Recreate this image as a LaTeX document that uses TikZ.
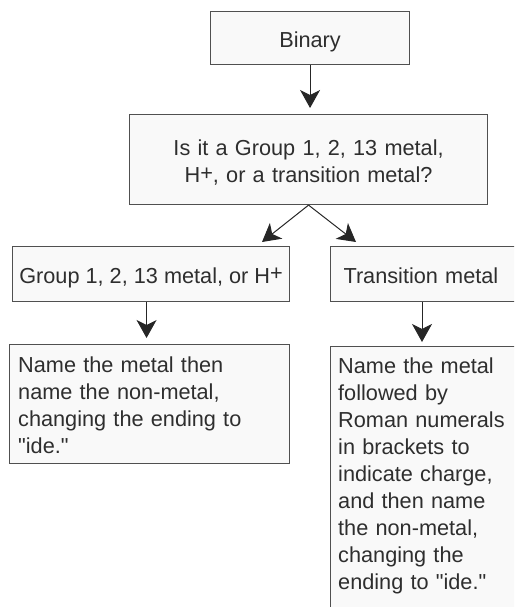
\documentclass[tikz,border=0pt]{standalone}
\usepackage{fontspec}
\setmainfont{Liberation Sans}[Ligatures=TeXOff]
\usetikzlibrary{arrows.meta,calc}
\definecolor{ink}{HTML}{2E2E2E}
\definecolor{edge}{HTML}{505050}
\definecolor{paper}{HTML}{F9F9F9}
\newcommand{\hplus}[1]{\raisebox{#1}{+}}
\begin{document}
\begin{tikzpicture}[x=1pt,y=-1pt,
  box/.style={draw=edge,fill=paper,line width=1.1pt,inner sep=0pt,anchor=north west},
  label/.style={text=ink,font=\fontsize{21.7}{27}\selectfont},
  oneline/.style={label,text height=19pt,text depth=0pt},
  flow/.style={draw=black!85,line width=1pt,-{Stealth[length=18pt,width=20pt,inset=5pt]}}]
\useasboundingbox (0,0) rectangle (514,607);
\clip (0,0) rectangle (514,607);

% boxes of the decision chain
\node[box,oneline,minimum width=199pt,minimum height=53pt] (binary) at (210,11) {Binary};
\node[box,label,minimum height=90pt,text width=358pt,align=center,
      text height=19pt,text depth=27pt] (ask) at (129,114)
      {Is it a Group 1, 2, 13 metal,\\H\hplus{.1em}, or a transition metal?};
\node[box,oneline,minimum width=277pt,minimum height=55pt] (grp) at (12,246)
      {Group 1, 2, 13 metal, or H\hplus{.13em}};
\node[box,oneline,minimum height=55pt,text width=200pt,inner xsep=13pt,align=left] (tm) at (330,246)
      {Transition metal};

% naming rules
\node[box,minimum width=280pt,minimum height=119pt] (nm1) at (9,344) {};
\node[label,anchor=base west,text width=270pt,align=left,inner sep=0pt] (nm1txt) at (18,372)
      {Name the metal then\\name the non-metal,\\changing the ending to\\"ide."};
\node[box,minimum width=220pt,minimum height=300pt] (nm2) at (330,346) {};
\node[label,anchor=base west,text width=180pt,align=left,inner sep=0pt] (nm2txt) at (338,373)
      {Name the metal\\followed by\\Roman numerals\\in brackets to\\indicate charge,\\and then name\\the non-metal,\\changing the\\ending to "ide."};

% connectors
\coordinate (gtip) at (262,242);
\coordinate (ttip) at (356,242);
\draw[flow,shorten >=6pt] (binary.south) -- (binary.south |- ask.north);
\draw[flow] (ask.south) -- (gtip);
\draw[flow] (ask.south) -- (ttip);
\draw[flow,shorten >=6pt] ([xshift=-4.5pt]grp.south) -- ([xshift=-4.5pt]grp.south |- nm1.north);
\draw[flow,shorten >=4pt] ([xshift=92pt]tm.south west) -- ([xshift=92pt]tm.south west |- nm2.north);
\end{tikzpicture}
\end{document}
